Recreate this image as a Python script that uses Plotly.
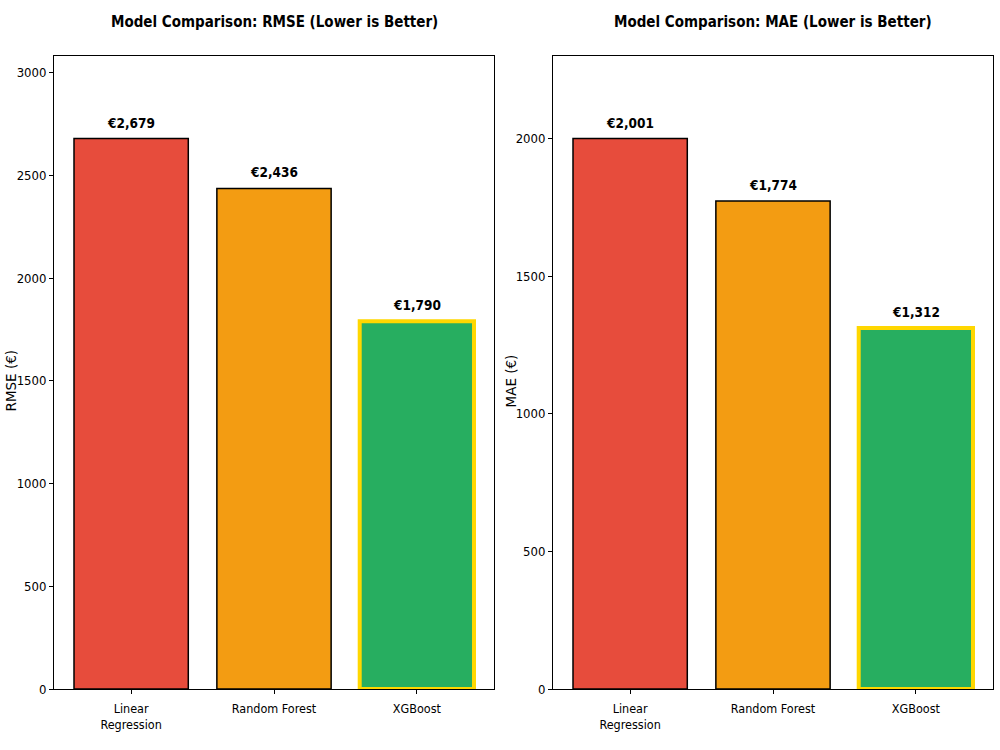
import plotly.graph_objects as go
from plotly.subplots import make_subplots

models = ["Linear Regression", "Random Forest", "XGBoost"]
tick_labels = ["Linear<br>Regression", "Random Forest", "XGBoost"]
rmse = [2679, 2436, 1790]
mae = [2001, 1774, 1312]
colors = ["#e74c3c", "#f39c12", "#27ae60"]
edge_colors = ["black", "black", "#FFD700"]
edge_widths = [1.5, 1.5, 4]

FONT = "DejaVu Sans Condensed, sans-serif"

fig = make_subplots(rows=1, cols=2)

panels = [
    (rmse, "Model Comparison: RMSE (Lower is Better)", "RMSE (€)", [0.054, 0.494], 0.0105),
    (mae, "Model Comparison: MAE (Lower is Better)", "MAE (€)", [0.553, 0.993], 0.5105),
]

ydom = [1 - 689 / 750, 1 - 56 / 750]

for i, (vals, title, ytitle, xdom, ytx) in enumerate(panels):
    col = i + 1
    fig.add_trace(
        go.Bar(
            x=models, y=vals, width=0.8,
            marker=dict(color=colors, line=dict(color=edge_colors, width=edge_widths)),
            showlegend=False, hoverinfo="skip",
        ),
        row=1, col=col,
    )
    xa = "xaxis" if col == 1 else "xaxis2"
    ya = "yaxis" if col == 1 else "yaxis2"
    xref = "x" if col == 1 else "x2"
    yref = "y" if col == 1 else "y2"
    fig.layout[xa].update(
        domain=xdom, range=[-0.54, 2.54], tickmode="array", tickvals=models, ticktext=tick_labels,
        showline=True, linecolor="black", linewidth=1, mirror=True, automargin=False,
        ticks="outside", ticklen=4, tickcolor="black", showgrid=False, ticklabelstandoff=4,
        tickfont=dict(family=FONT, size=12.5, color="black"),
    )
    fig.layout[ya].update(
        domain=ydom, range=[0, max(vals) * 1.15], dtick=500,
        showline=True, linecolor="black", linewidth=1, mirror=True, automargin=False,
        ticks="outside", ticklen=4, tickcolor="black", showgrid=False, zeroline=False,
        tickfont=dict(family=FONT, size=13, color="black"),
    )
    for m, v in zip(models, vals):
        fig.add_annotation(
            x=m, y=v, xref=xref, yref=yref, text=f"<b>€{v:,}</b>", showarrow=False,
            yanchor="bottom", yshift=6, font=dict(family=FONT, size=13.5, color="black"),
        )
    fig.add_annotation(
        x=(xdom[0] + xdom[1]) / 2, y=1 - 22 / 750, xref="paper", yref="paper",
        text=f"<b>{title}</b>", showarrow=False, xanchor="center", yanchor="middle",
        font=dict(family=FONT, size=15, color="black"),
    )
    fig.add_annotation(
        x=ytx, y=1 - 381 / 750, xref="paper", yref="paper", text=ytitle, textangle=-90,
        showarrow=False, xanchor="center", yanchor="middle",
        font=dict(family="DejaVu Sans", size=13.5, color="black"),
    )

fig.update_layout(
    width=1000, height=750, margin=dict(l=0, r=0, t=0, b=0),
    paper_bgcolor="white", plot_bgcolor="white", bargap=0.2,
)

fig.write_html("out.html")
